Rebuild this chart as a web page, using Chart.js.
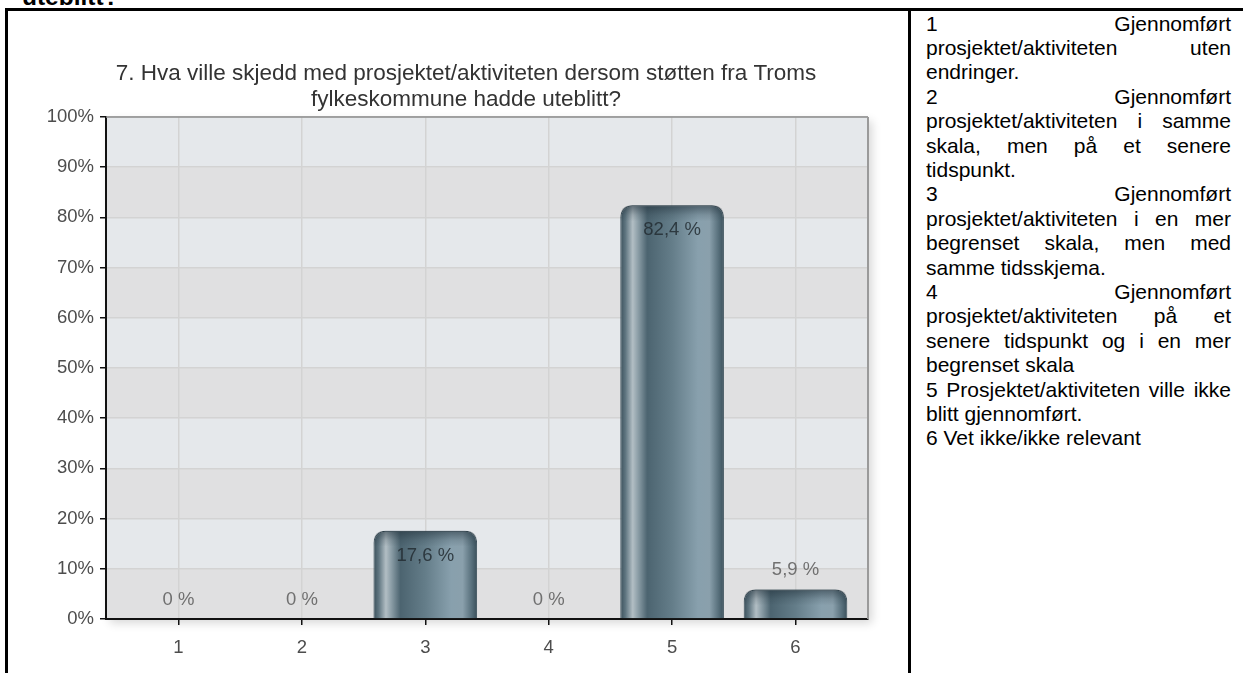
<!DOCTYPE html>
<html>
<head>
<meta charset="utf-8">
<script src="https://cdn.jsdelivr.net/npm/chart.js@4.4.1/dist/chart.umd.min.js"></script>
<style>
    html, body { margin: 0; padding: 0; background: #fff; }
    body { position: relative; width: 1243px; height: 673px; overflow: hidden; font-family: "Liberation Sans", Arial, sans-serif; }
    .head { position: absolute; left: 22px; top: -15px; font-weight: bold; font-size: 24.5px; line-height: 24px; color: #000; white-space: nowrap; }
    .line { position: absolute; background: #000; }
    #chartBox { position: absolute; left: 8px; top: 11px; width: 916px; height: 662px; }
    .notes { position: absolute; left: 926px; top: 11.5px; width: 305px; font-size: 21px; line-height: 24.4px; color: #000; }
    .notes div { text-align: justify; }
</style>
</head>
<body>
<div class="head">uteblitt?</div>
<div class="line" style="left:5px; top:8px; width:1238px; height:3px;"></div>
<div class="line" style="left:5px; top:8px; width:3px; height:665px;"></div>
<div class="line" style="left:908px; top:8px; width:3px; height:665px;"></div>
<div id="chartBox"><canvas id="surveyChart" width="916" height="662"></canvas></div>
<div class="notes" id="notes"></div>

<script>
// Chart data
const chartTitle = ['7. Hva ville skjedd med prosjektet/aktiviteten dersom støtten fra Troms', 'fylkeskommune hadde uteblitt?'];
const categories = ['1', '2', '3', '4', '5', '6'];
const shares = [0, 0, 17.6, 0, 82.4, 5.9];
const yTicks = [0, 10, 20, 30, 40, 50, 60, 70, 80, 90, 100];

// Answer texts in the right column
const answerTexts = [
    '1 Gjennomført prosjektet/aktiviteten uten endringer.',
    '2 Gjennomført prosjektet/aktiviteten i samme skala, men på et senere tidspunkt.',
    '3 Gjennomført prosjektet/aktiviteten i en mer begrenset skala, men med samme tidsskjema.',
    '4 Gjennomført prosjektet/aktiviteten på et senere tidspunkt og i en mer begrenset skala',
    '5 Prosjektet/aktiviteten ville ikke blitt gjennomført.',
    '6 Vet ikke/ikke relevant'
];

const barPct = 0.84;

document.getElementById('notes').innerHTML = answerTexts.map(t => `<div>${t}</div>`).join('');

Chart.defaults.font.family = '"Liberation Sans", Arial, sans-serif';
Chart.defaults.color = '#4d4d4d';

// Rounded top bar outline, used to clip the cap shading
function barPath(ctx, left, top, width, bottom, r) {
    ctx.beginPath();
    ctx.moveTo(left, bottom);
    ctx.lineTo(left, top + r);
    ctx.quadraticCurveTo(left, top, left + r, top);
    ctx.lineTo(left + width - r, top);
    ctx.quadraticCurveTo(left + width, top, left + width, top + r);
    ctx.lineTo(left + width, bottom);
    ctx.closePath();
}

// Plot background: shadow, alternating bands, grey top/right frame
const plotBackground = {
    id: 'plotBackground',
    beforeDraw(chart) {
        const { ctx, chartArea: a, scales: { y } } = chart;
        ctx.save();
        ctx.shadowColor = 'rgba(0,0,0,0.16)';
        ctx.shadowBlur = 9;
        ctx.shadowOffsetX = 4;
        ctx.shadowOffsetY = 4;
        ctx.fillStyle = '#e2e2e3';
        ctx.fillRect(a.left, a.top, a.width, a.height);
        ctx.restore();
        for (let i = 0; i < yTicks.length - 1; i++) {
            const top = y.getPixelForValue(yTicks[i + 1]);
            const bottom = y.getPixelForValue(yTicks[i]);
            ctx.fillStyle = i % 2 === 0 ? '#e0e0e1' : '#e5e8eb';
            ctx.fillRect(a.left, top, a.width, bottom - top);
        }
    },
    beforeDatasetsDraw(chart) {
        const { ctx, chartArea: a } = chart;
        ctx.save();
        ctx.strokeStyle = '#8e8e8e';
        ctx.lineWidth = 1.5;
        ctx.beginPath();
        ctx.moveTo(a.left, a.top);
        ctx.lineTo(a.right, a.top);
        ctx.stroke();
        ctx.strokeStyle = '#9a9a9a';
        ctx.lineWidth = 2;
        ctx.beginPath();
        ctx.moveTo(a.right, a.top);
        ctx.lineTo(a.right, a.bottom);
        ctx.stroke();
        ctx.restore();
    }
};

// Darker cap at the top of every bar, then the value labels
const barDecor = {
    id: 'barDecor',
    afterDatasetsDraw(chart) {
        const { ctx } = chart;
        const meta = chart.getDatasetMeta(0);
        ctx.save();
        meta.data.forEach((bar, i) => {
            const h = bar.base - bar.y;
            if (h > 1) {
                const left = bar.x - bar.width / 2;
                ctx.save();
                barPath(ctx, left, bar.y, bar.width, bar.base, 12);
                ctx.clip();
                const g = ctx.createLinearGradient(0, bar.y, 0, bar.y + 16);
                g.addColorStop(0, 'rgba(30,45,55,0.55)');
                g.addColorStop(0.6, 'rgba(30,45,55,0.15)');
                g.addColorStop(1, 'rgba(30,45,55,0)');
                ctx.fillStyle = g;
                ctx.fillRect(left, bar.y, bar.width, 16);
                ctx.restore();
            }
            const v = shares[i];
            const text = (v === 0 ? '0' : v.toFixed(1).replace('.', ',')) + ' %';
            ctx.font = '18.5px "Liberation Sans", Arial, sans-serif';
            ctx.textAlign = 'center';
            ctx.textBaseline = 'middle';
            if (v >= 10) {
                ctx.fillStyle = 'rgba(35,45,50,0.85)';
                ctx.fillText(text, bar.x, bar.y + 25);
            } else {
                ctx.fillStyle = '#707070';
                ctx.fillText(text, bar.x, bar.y - 19);
            }
        });
        ctx.restore();
    }
};

function barGradient(context) {
    const chart = context.chart;
    if (!chart.chartArea || context.type !== 'data') return '#5b727e';
    const xs = chart.scales.x;
    const step = xs.getPixelForValue(2) - xs.getPixelForValue(1);
    const cx = xs.getPixelForValue(context.parsed.x);
    const half = step * barPct / 2;
    const g = chart.ctx.createLinearGradient(cx - half, 0, cx + half, 0);
    g.addColorStop(0, '#3a4f5a');
    g.addColorStop(0.05, '#5f7580');
    g.addColorStop(0.12, '#b2bec4');
    g.addColorStop(0.17, '#8d9fa8');
    g.addColorStop(0.26, '#4c6470');
    g.addColorStop(0.5, '#647d89');
    g.addColorStop(0.75, '#88a0ad');
    g.addColorStop(0.86, '#8aa0ac');
    g.addColorStop(0.95, '#566e7a');
    g.addColorStop(1, '#3a4f5a');
    return g;
}

const ctx = document.getElementById('surveyChart').getContext('2d');
const surveyChart = new Chart(ctx, {
    type: 'bar',
    data: {
        datasets: [{
            data: shares.map((v, i) => ({ x: i + 1, y: v })),
            backgroundColor: barGradient,
            borderColor: '#3b505b',
            borderWidth: 1,
            borderSkipped: 'bottom',
            borderRadius: { topLeft: 12, topRight: 12, bottomLeft: 0, bottomRight: 0 },
            barPercentage: barPct,
            categoryPercentage: 1
        }]
    },
    options: {
        responsive: false,
        animation: false,
        layout: { padding: 0 },
        plugins: {
            legend: { display: false },
            tooltip: { enabled: false },
            title: {
                display: true,
                text: chartTitle,
                color: '#333',
                font: { size: 22.5, weight: 'normal', lineHeight: 26 / 22.5 },
                padding: { top: 50, bottom: 4 }
            }
        },
        scales: {
            x: {
                type: 'linear',
                min: 0.4125,
                max: 6.5875,
                offset: false,
                afterBuildTicks: (scale) => {
                    scale.ticks = categories.map((c, i) => ({ value: i + 1 }));
                },
                afterFit: (scale) => { scale.height = 54; },
                ticks: {
                    callback: (v) => categories[v - 1],
                    font: { size: 18.5 },
                    color: '#4d4d4d',
                    padding: 12,
                    maxRotation: 0
                },
                grid: { color: '#d3d3d3', lineWidth: 1.5, offset: false, tickColor: '#111', tickLength: 6 },
                border: { color: '#111', width: 2 }
            },
            y: {
                min: 0,
                max: 100,
                afterBuildTicks: (scale) => {
                    scale.ticks = yTicks.map(v => ({ value: v }));
                },
                afterFit: (scale) => { scale.width = 98; },
                ticks: {
                    callback: (v) => v + '%',
                    font: { size: 18.5 },
                    color: '#4d4d4d',
                    padding: 6
                },
                grid: { color: '#d3d3d3', lineWidth: 1.5, tickColor: '#111', tickLength: 6 },
                border: { color: '#111', width: 2 }
            },
            // empty spacer on the right so the title centres like the original
            spacer: {
                position: 'right',
                display: true,
                afterFit: (scale) => { scale.width = 56; },
                ticks: { display: false },
                grid: { display: false, drawTicks: false },
                border: { display: false }
            }
        }
    },
    plugins: [plotBackground, barDecor]
});
</script>
</body>
</html>
